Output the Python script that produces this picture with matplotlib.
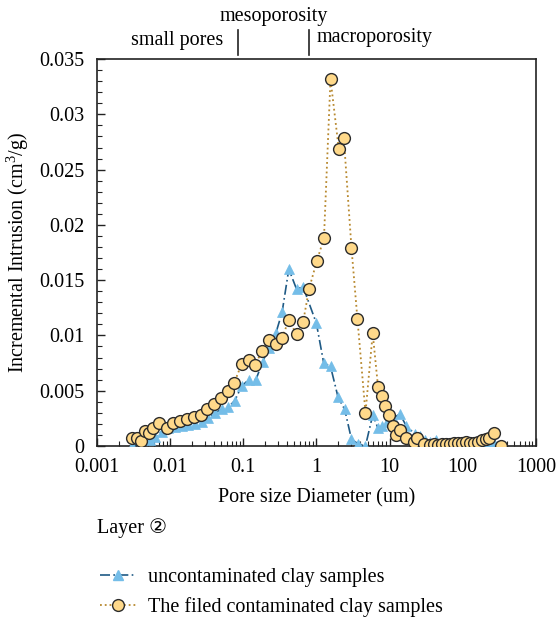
#!/usr/bin/env python3
"""Incremental intrusion vs pore size diameter, layer 2 clay samples."""

import matplotlib
matplotlib.use('Agg')
import matplotlib.pyplot as plt
import matplotlib.transforms as mtransforms
from matplotlib.ticker import MultipleLocator, LogLocator, NullFormatter
from matplotlib.lines import Line2D

plt.rcParams['font.family'] = ['Liberation Serif', 'DejaVu Sans']
plt.rcParams['mathtext.fontset'] = 'custom'
plt.rcParams['mathtext.rm'] = 'Liberation Serif'

# Uncontaminated clay samples (blue triangles)
unc_d = [0.00298, 0.00387, 0.0053, 0.0062, 0.00765, 0.00942, 0.0116, 0.0144,
         0.0177, 0.0218, 0.0269, 0.0331, 0.0409, 0.0505, 0.0622, 0.0767,
         0.0948, 0.119, 0.149, 0.184, 0.224, 0.279, 0.340, 0.420, 0.535,
         0.658, 1.00, 1.26, 1.56, 1.98, 2.44, 3.02, 3.71, 4.69, 5.89, 6.97,
         7.90, 9.25, 11.2, 13.8, 17.0, 22.1, 26.0, 30.5, 36.0, 43.7, 52.0,
         62.0, 75.0, 90.0, 108, 130, 155, 185, 222, 265, 330]
unc_v = [0.0, 0.0001, 0.0005, 0.0008, 0.0013, 0.0016, 0.0017, 0.0018,
         0.0019, 0.0020, 0.0022, 0.0025, 0.0030, 0.0033, 0.0035, 0.0041,
         0.0054, 0.0060, 0.0060, 0.0076, 0.0089, 0.0102, 0.0121, 0.0160, 0.0142,
         0.0144, 0.0111, 0.0075, 0.0072, 0.0044, 0.0033, 0.0006, 0.0002, 0.0,
         0.0028, 0.0016, 0.0018, 0.0022, 0.0025, 0.0029, 0.0018, 0.0011, 0.0009,
         0.0005, 0.0004, 0.0005, 0.0002, 0.0001, 0.0001, 0.0001, 0.0001, 0.0002,
         0.0002, 0.0003, 0.0004, 0.0003, 0.0]

# Field contaminated clay samples (yellow circles)
con_d = [0.00298, 0.00356, 0.00395, 0.00453, 0.00518, 0.00587, 0.0071,
         0.00895, 0.0110, 0.0136, 0.0171, 0.0211, 0.0261, 0.0321, 0.0396,
         0.0490, 0.0611, 0.0752, 0.0948, 0.119, 0.147, 0.178, 0.224, 0.279,
         0.340, 0.420, 0.535, 0.658, 0.794, 1.01, 1.27, 1.56, 2.02, 2.37,
         3.02, 3.64, 4.69, 5.89, 6.97, 7.90, 8.79, 9.75, 11.2, 12.2, 13.8,
         17.0, 21.4, 23.8, 29.3, 35.4, 40.2, 45.5, 51.6, 58.6, 66.4, 75.3,
         85.5, 96.9, 110, 125, 141, 160, 182, 206, 230, 265, 330]
con_v = [0.00075, 0.0007, 0.00048, 0.00136, 0.00115, 0.0016, 0.00205,
         0.0016, 0.0021, 0.0023, 0.0024, 0.0026, 0.0028, 0.0033, 0.0038,
         0.0043, 0.0050, 0.0057, 0.0074, 0.0078, 0.0073, 0.0086, 0.0096, 0.0092,
         0.0098, 0.0114, 0.0101, 0.0112, 0.0142, 0.0167, 0.0188, 0.0332, 0.0269,
         0.0279, 0.0179, 0.0115, 0.0030, 0.0102, 0.0053, 0.0045, 0.0036,
         0.0028, 0.0018, 0.0010, 0.0014, 0.00075, 0.00033, 0.0007, 0.0002,
         0.00005, 0.0002, 0.0001, 0.0002, 0.0002, 0.0002, 0.0003, 0.0003,
         0.0003, 0.0004, 0.0003, 0.0003, 0.0004, 0.0005, 0.0006, 0.0007,
         0.0012, 0.0]

x_ticks = [0.001, 0.01, 0.1, 1, 10, 100, 1000]
x_tick_labels = ['0.001', '0.01', '0.1', '1', '10', '100', '1000']
y_ticks = [0, 0.005, 0.01, 0.015, 0.02, 0.025, 0.03, 0.035]
y_tick_labels = ['0', '0.005', '0.01', '0.015', '0.02', '0.025', '0.03', '0.035']

# Pore class boundaries (um)
boundaries = [0.085, 0.8]

BLUE_LINE = '#1f5a85'
BLUE_FILL = '#74bde8'
GOLD_LINE = '#b8892f'
GOLD_FILL = '#ffd98a'
FS = 14.5

fig = plt.figure(figsize=(5.57, 6.29), dpi=100)
ax = fig.add_axes([0.174, 0.291, 0.788, 0.615])

ax.plot(unc_d, unc_v, linestyle=(0, (6, 2, 1, 2)), color=BLUE_LINE, linewidth=1.2,
        marker='^', markersize=7, markerfacecolor=BLUE_FILL,
        markeredgecolor=BLUE_FILL, markeredgewidth=0.5, zorder=3)
ax.plot(con_d, con_v, linestyle=':', color=GOLD_LINE, linewidth=1.3,
        marker='o', markersize=8.5, markerfacecolor=GOLD_FILL,
        markeredgecolor='#2b2b2b', markeredgewidth=1.0, zorder=4)

ax.set_xscale('log')
ax.set_xlim(0.001, 1000)
ax.set_ylim(0, 0.035)
ax.xaxis.set_minor_locator(LogLocator(base=10, subs=range(2, 10)))
ax.xaxis.set_minor_formatter(NullFormatter())
ax.set_xticks(x_ticks)
ax.set_xticklabels(x_tick_labels)
ax.yaxis.set_minor_locator(MultipleLocator(0.001))
ax.set_yticks(y_ticks)
ax.set_yticklabels(y_tick_labels)

ax.tick_params(which='both', direction='in', labelsize=FS, color='#222222')
ax.tick_params(which='major', length=6, width=1)
ax.tick_params(which='minor', length=3.5, width=0.8)
ax.tick_params(axis='x', pad=9)
ax.tick_params(axis='y', pad=9)
for s in ax.spines.values():
    s.set_linewidth(1.2)
    s.set_color('#222222')

ax.set_xlabel('Pore size Diameter (um)', fontsize=FS, labelpad=8)
ax.set_ylabel('Incremental Intrusion (cm$^3$/g)', fontsize=FS, labelpad=6)

# Pore class markers above the plot
trans = mtransforms.blended_transform_factory(ax.transData, ax.transAxes)
for b in boundaries:
    ax.plot([b, b], [1.01, 1.075], transform=trans, color='#222222',
            linewidth=1.2, clip_on=False)
ax.text(0.0029, 1.048, 'small pores', transform=trans, fontsize=FS,
        ha='left', va='center')
ax.text(0.26, 1.11, 'mesoporosity', transform=trans, fontsize=FS,
        ha='center', va='center')
ax.text(1.0, 1.055, 'macroporosity', transform=trans, fontsize=FS,
        ha='left', va='center')

fig.text(0.174, 0.16, 'Layer \u2461', fontsize=FS, ha='left', va='center')

handles = [
    Line2D([], [], linestyle=(0, (6, 2, 1, 2)), color=BLUE_LINE, linewidth=1.2,
           marker='^', markersize=7, markerfacecolor=BLUE_FILL,
           markeredgecolor=BLUE_FILL),
    Line2D([], [], linestyle=':', color=GOLD_LINE, linewidth=1.3,
           marker='o', markersize=8.5, markerfacecolor=GOLD_FILL,
           markeredgecolor='#2b2b2b'),
]
labels = ['uncontaminated clay samples', 'The filed contaminated clay samples']
fig.legend(handles, labels, loc='upper left', bbox_to_anchor=(0.165, 0.11),
           frameon=False, fontsize=FS, numpoints=1, handlelength=1.8,
           handletextpad=0.6, labelspacing=0.5, borderaxespad=0)

fig.savefig('out.png', dpi=100)
